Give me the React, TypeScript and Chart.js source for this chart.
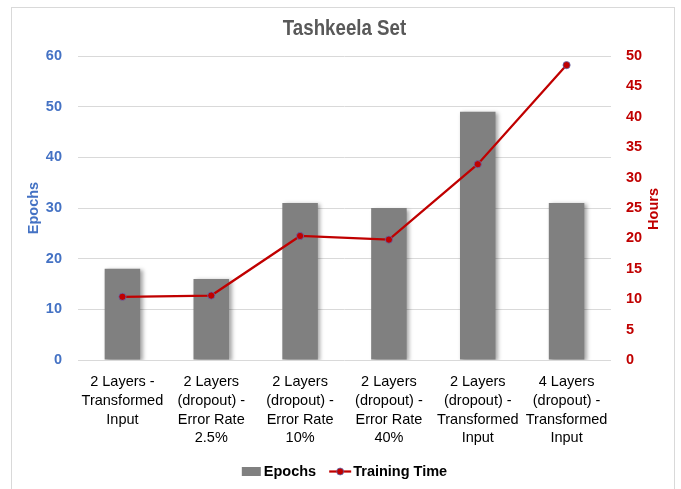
import React, { useEffect, useRef } from "react";
import { Chart, registerables } from "chart.js";

Chart.register(...registerables);

// ---- data ----
const categories: string[][] = [
  ["2 Layers -", "Transformed", "Input"],
  ["2 Layers", "(dropout) -", "Error Rate", "2.5%"],
  ["2 Layers", "(dropout) -", "Error Rate", "10%"],
  ["2 Layers", "(dropout) -", "Error Rate", "40%"],
  ["2 Layers", "(dropout) -", "Transformed", "Input"],
  ["4 Layers", "(dropout) -", "Transformed", "Input"],
];
const epochs = [18, 16, 31, 30, 49, 31];
const trainingHours = [10.4, 10.6, 20.4, 19.8, 32.2, 48.5];
const epochTicks = [0, 10, 20, 30, 40, 50, 60];
const hourTicks = [0, 5, 10, 15, 20, 25, 30, 35, 40, 45, 50];

const chartTitle = "Tashkeela Set";
const leftAxisTitle = "Epochs";
const rightAxisTitle = "Hours";
const barLabel = "Epochs";
const lineLabel = "Training Time";

// ---- styles ----
const FONT = "'Liberation Sans', Arial, sans-serif";
const BLUE = "#4472C4";
const RED = "#C00000";
const GRAY_BAR = "#808080";
const GRID = "#d9d9d9";

const decorPlugin = {
  id: "decor",
  beforeDatasetDraw(chart: any, args: any) {
    if (args.meta.type === "bar") {
      const ctx = chart.ctx;
      ctx.save();
      ctx.shadowColor = "rgba(0,0,0,0.35)";
      ctx.shadowBlur = 4;
      ctx.shadowOffsetX = 2.5;
      ctx.shadowOffsetY = 1.5;
    }
  },
  afterDatasetDraw(chart: any, args: any) {
    if (args.meta.type === "bar") {
      chart.ctx.restore();
    }
  },
  afterDraw(chart: any) {
    const ctx = chart.ctx as CanvasRenderingContext2D;
    const area = chart.chartArea;
    const cx = (area.left + area.right) / 2;
    const cy = (area.top + area.bottom) / 2;

    // title (condensed)
    ctx.save();
    ctx.font = `bold 22px ${FONT}`;
    ctx.fillStyle = "#595959";
    ctx.textAlign = "center";
    ctx.textBaseline = "middle";
    ctx.translate(cx, 29);
    ctx.scale(0.85, 1);
    ctx.fillText(chartTitle, 0, 0);
    ctx.restore();

    // axis titles
    ctx.save();
    ctx.font = `bold 14.5px ${FONT}`;
    ctx.textAlign = "center";
    ctx.textBaseline = "middle";
    ctx.fillStyle = BLUE;
    ctx.translate(34, cy);
    ctx.rotate(-Math.PI / 2);
    ctx.fillText(leftAxisTitle, 0, 0);
    ctx.restore();

    ctx.save();
    ctx.font = `bold 14.5px ${FONT}`;
    ctx.textAlign = "center";
    ctx.textBaseline = "middle";
    ctx.fillStyle = RED;
    ctx.translate(654, cy + 1);
    ctx.rotate(-Math.PI / 2);
    ctx.fillText(rightAxisTitle, 0, 0);
    ctx.restore();

    // legend
    const ly = 471.5;
    ctx.save();
    ctx.font = `bold 14.5px ${FONT}`;
    ctx.textBaseline = "middle";
    ctx.textAlign = "left";
    const w1 = ctx.measureText(barLabel).width;
    const w2 = ctx.measureText(lineLabel).width;
    const total = 19 + 3 + w1 + 13 + 22 + 2 + w2;
    let x = cx - total / 2;
    ctx.fillStyle = GRAY_BAR;
    ctx.fillRect(x, ly - 4.5, 19, 9);
    x += 22;
    ctx.fillStyle = "#000";
    ctx.fillText(barLabel, x, ly);
    x += w1 + 13;
    ctx.strokeStyle = RED;
    ctx.lineWidth = 2.25;
    ctx.beginPath();
    ctx.moveTo(x, ly);
    ctx.lineTo(x + 22, ly);
    ctx.stroke();
    ctx.beginPath();
    ctx.arc(x + 11, ly, 3.5, 0, Math.PI * 2);
    ctx.fillStyle = RED;
    ctx.fill();
    ctx.lineWidth = 0.75;
    ctx.strokeStyle = "#5a6db5";
    ctx.stroke();
    x += 24;
    ctx.fillStyle = "#000";
    ctx.fillText(lineLabel, x, ly);
    ctx.restore();
  },
};

export default function App() {
  const canvasRef = useRef<HTMLCanvasElement | null>(null);

  useEffect(() => {
    const canvas = canvasRef.current;
    if (!canvas) return;
    Chart.defaults.font.family = FONT;

    const chart = new Chart(canvas, {
      type: "bar",
      data: {
        labels: categories,
        datasets: [
          {
            type: "line",
            label: lineLabel,
            data: trainingHours,
            yAxisID: "y1",
            borderColor: RED,
            borderWidth: 2.25,
            backgroundColor: RED,
            pointRadius: 3.6,
            pointBackgroundColor: RED,
            pointBorderColor: "#5a6db5",
            pointBorderWidth: 0.75,
            tension: 0,
            order: 1,
          } as any,
          {
            type: "bar",
            label: barLabel,
            data: epochs,
            yAxisID: "y",
            backgroundColor: GRAY_BAR,
            borderWidth: 0,
            categoryPercentage: 1,
            barPercentage: 0.4,
            order: 2,
          },
        ],
      },
      options: {
        responsive: false,
        animation: false,
        devicePixelRatio: 1,
        layout: { padding: { top: 56, left: 0, right: 0, bottom: 0 } },
        plugins: {
          legend: { display: false },
          title: { display: false },
          tooltip: { enabled: false },
        },
        scales: {
          x: {
            grid: { display: false, drawTicks: false },
            border: { display: false },
            ticks: {
              maxRotation: 0,
              minRotation: 0,
              autoSkip: false,
              padding: 13,
              color: "#000",
              font: { size: 14.5, lineHeight: 1.29 },
            },
            afterFit(scale: any) {
              scale.height = 129;
            },
          },
          y: {
            position: "left",
            min: epochTicks[0],
            max: epochTicks[epochTicks.length - 1],
            ticks: {
              stepSize: epochTicks[1] - epochTicks[0],
              color: BLUE,
              padding: 16,
              font: { size: 14.5, weight: "bold" },
            },
            grid: { color: GRID, lineWidth: 1, drawTicks: false },
            border: { display: false },
            afterFit(scale: any) {
              scale.width = 78;
            },
          },
          y1: {
            position: "right",
            min: hourTicks[0],
            max: hourTicks[hourTicks.length - 1],
            ticks: {
              stepSize: hourTicks[1] - hourTicks[0],
              color: RED,
              padding: 15,
              font: { size: 14.5, weight: "bold" },
            },
            grid: { display: false, drawTicks: false },
            border: { display: false },
            afterFit(scale: any) {
              scale.width = 70;
            },
          },
        },
      },
      plugins: [decorPlugin],
    });

    return () => chart.destroy();
  }, []);

  return (
    <div style={{ position: "fixed", left: 0, top: 0, width: 681, height: 489, background: "#fff" }}>
      <div
        style={{
          position: "absolute",
          left: 11,
          top: 7,
          width: 664,
          height: 490,
          border: "1px solid #d9d9d9",
          boxSizing: "border-box",
        }}
      />
      <canvas
        ref={canvasRef}
        width={681}
        height={489}
        style={{ position: "absolute", left: 0, top: 0, width: 681, height: 489 }}
      />
    </div>
  );
}
